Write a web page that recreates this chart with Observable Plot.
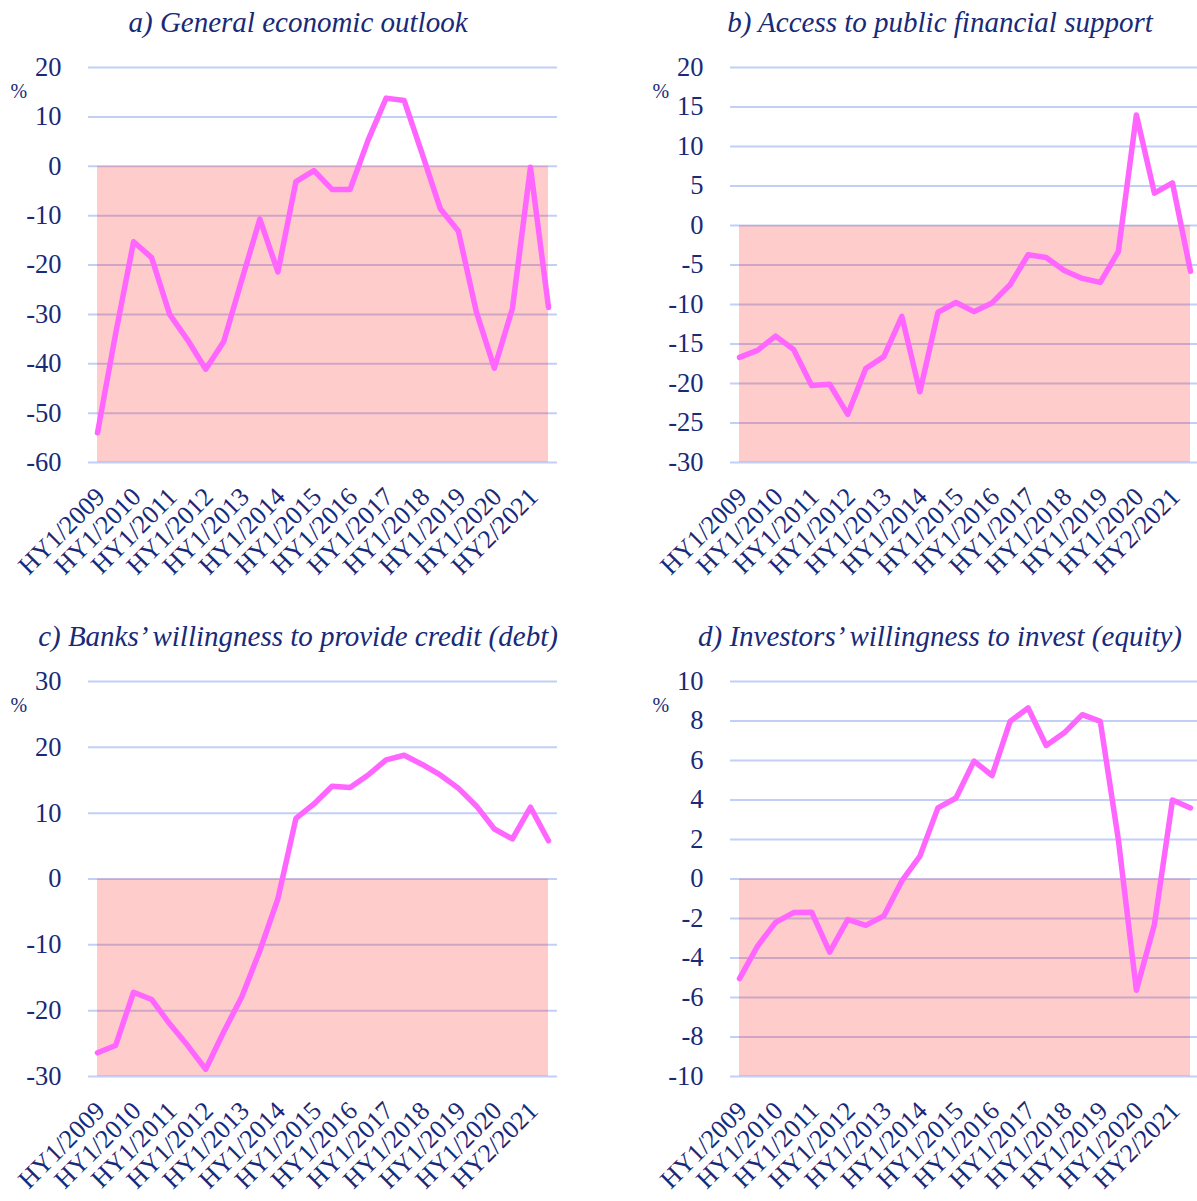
<!DOCTYPE html>
<html><head><meta charset="utf-8">
<script src="https://cdn.jsdelivr.net/npm/d3@7"></script>
<script src="https://cdn.jsdelivr.net/npm/@observablehq/plot@0.6"></script>
<style>
html,body{margin:0;padding:0;background:#fff;overflow:hidden;}
#wrap{position:relative;width:1197px;height:1201px;overflow:hidden;}
.panel{position:absolute;width:600px;height:600px;}
.panel svg{overflow:visible;max-width:none !important;}
.title{position:absolute;top:0;font-family:"Liberation Serif",serif;font-style:italic;font-size:29px;color:#182a78;text-align:center;white-space:nowrap;line-height:44px;}
</style></head><body><div id="wrap"></div>
<script>
// Half-year periods
const periods = ["HY1/2009","HY2/2009","HY1/2010","HY2/2010","HY1/2011","HY2/2011","HY1/2012","HY2/2012",
  "HY1/2013","HY2/2013","HY1/2014","HY2/2014","HY1/2015","HY2/2015","HY1/2016","HY2/2016","HY1/2017","HY2/2017",
  "HY1/2018","HY2/2018","HY1/2019","HY2/2019","HY1/2020","HY2/2020","HY1/2021","HY2/2021"];
// Tick labels as displayed (every second period)
const tickLabels = ["HY1/2009","HY1/2010","HY1/2011","HY1/2012","HY1/2013","HY1/2014","HY1/2015","HY1/2016",
  "HY1/2017","HY1/2018","HY1/2019","HY1/2020","HY2/2021"];

const titles = ["a) General economic outlook","b) Access to public financial support",
  "c) Banks\u2019 willingness to provide credit (debt)","d) Investors\u2019 willingness to invest (equity)"];

const generalOutlook = [-54,-34,-15.3,-18.5,-30,-35.2,-41.1,-35.5,-23,-10.7,-21.4,-3.1,-0.9,-4.7,-4.7,5.3,13.8,13.3,2.5,-8.6,-13.1,-29.5,-40.9,-28.8,-0.2,-28.6];
const publicSupport = [-16.7,-15.8,-14.0,-15.7,-20.25,-20.1,-23.9,-18.1,-16.6,-11.5,-21.05,-11.0,-9.75,-10.9,-9.8,-7.5,-3.7,-4.05,-5.7,-6.7,-7.2,-3.3,14.0,4.1,5.4,-5.8];
const bankCredit = [-26.4,-25.3,-17.2,-18.3,-22.0,-25.3,-28.9,-23.2,-17.9,-10.9,-3,9.2,11.4,14.1,13.9,15.8,18.1,18.8,17.4,15.8,13.8,11.1,7.6,6.1,10.9,5.8];
const investorEquity = [-5.04,-3.4,-2.2,-1.7,-1.68,-3.7,-2.05,-2.35,-1.87,-0.1,1.16,3.6,4.1,5.97,5.24,7.98,8.66,6.76,7.4,8.32,7.98,2.0,-5.63,-2.3,4.0,3.6];

const yTicksA = [-60,-50,-40,-30,-20,-10,0,10,20];
const yTicksB = [-30,-25,-20,-15,-10,-5,0,5,10,15,20];
const yTicksC = [-30,-20,-10,0,10,20,30];
const yTicksD = [-10,-8,-6,-4,-2,0,2,4,6,8,10];

const TEXT = "#182a78";
const wrap = document.getElementById("wrap");

const panels = [
  {title: titles[0], values: generalOutlook, ticks: yTicksA, left: 0,   top: 0,   width: 600, marginRight: 43},
  {title: titles[1], values: publicSupport,  ticks: yTicksB, left: 642, top: 0,   width: 559, marginRight: 2},
  {title: titles[2], values: bankCredit,     ticks: yTicksC, left: 0,   top: 614, width: 600, marginRight: 43},
  {title: titles[3], values: investorEquity, ticks: yTicksD, left: 642, top: 614, width: 559, marginRight: 2}
];

for (const p of panels) {
  const div = document.createElement("div");
  div.className = "panel";
  div.style.left = p.left + "px";
  div.style.top = p.top + "px";
  const t = document.createElement("div");
  t.className = "title";
  t.textContent = p.title;
  t.style.left = "0px";
  t.style.width = "596px";
  div.appendChild(t);

  const data = periods.map((d, i) => ({i, period: d, value: p.values[i]}));
  const yMin = d3.min(p.ticks), yMax = d3.max(p.ticks);
  const last = periods.length - 1;
  const tickPos = d3.range(0, last, 2);

  const chart = Plot.plot({
    width: p.width,
    height: 540,
    marginTop: 27,
    marginLeft: 88,
    marginRight: p.marginRight,
    marginBottom: 118,
    style: {fontFamily: "'Liberation Serif', serif", color: TEXT, background: "transparent", overflow: "visible"},
    x: {domain: [0, last], inset: 9, axis: null},
    y: {domain: [yMin, yMax], axis: null},
    marks: [
      Plot.gridY(p.ticks, {stroke: "#c3cff7", strokeOpacity: 1, strokeWidth: 2}),
      Plot.rect([{x1: 0, x2: last, y1: yMin, y2: 0}], {x1: "x1", x2: "x2", y1: "y1", y2: "y2", fill: "#ff0000", fillOpacity: 0.2}),
      Plot.lineY(data, {x: "i", y: "value", stroke: "#ff66ff", strokeWidth: 5.5, strokeLinejoin: "round", strokeLinecap: "round"}),
      Plot.axisY(p.ticks, {tickSize: 0, tickPadding: 27, fontSize: 26.5, fill: TEXT, tickFormat: d => String(d)}),
      Plot.axisX(tickPos, {tickSize: 0, tickPadding: 30, dx: 3, tickRotate: -45, fontSize: 26, fill: TEXT,
        tickFormat: i => tickLabels[i / 2]}),
      Plot.text(["%"], {frameAnchor: "top-left", dx: -78, dy: 16, fontSize: 20, fill: TEXT})
    ]
  });
  chart.style.position = "absolute";
  chart.style.left = "0px";
  chart.style.top = "40px";
  chart.style.maxWidth = "none";
  chart.style.width = p.width + "px";
  chart.style.height = "540px";
  div.appendChild(chart);
  wrap.appendChild(div);
}
</script>
</body></html>
